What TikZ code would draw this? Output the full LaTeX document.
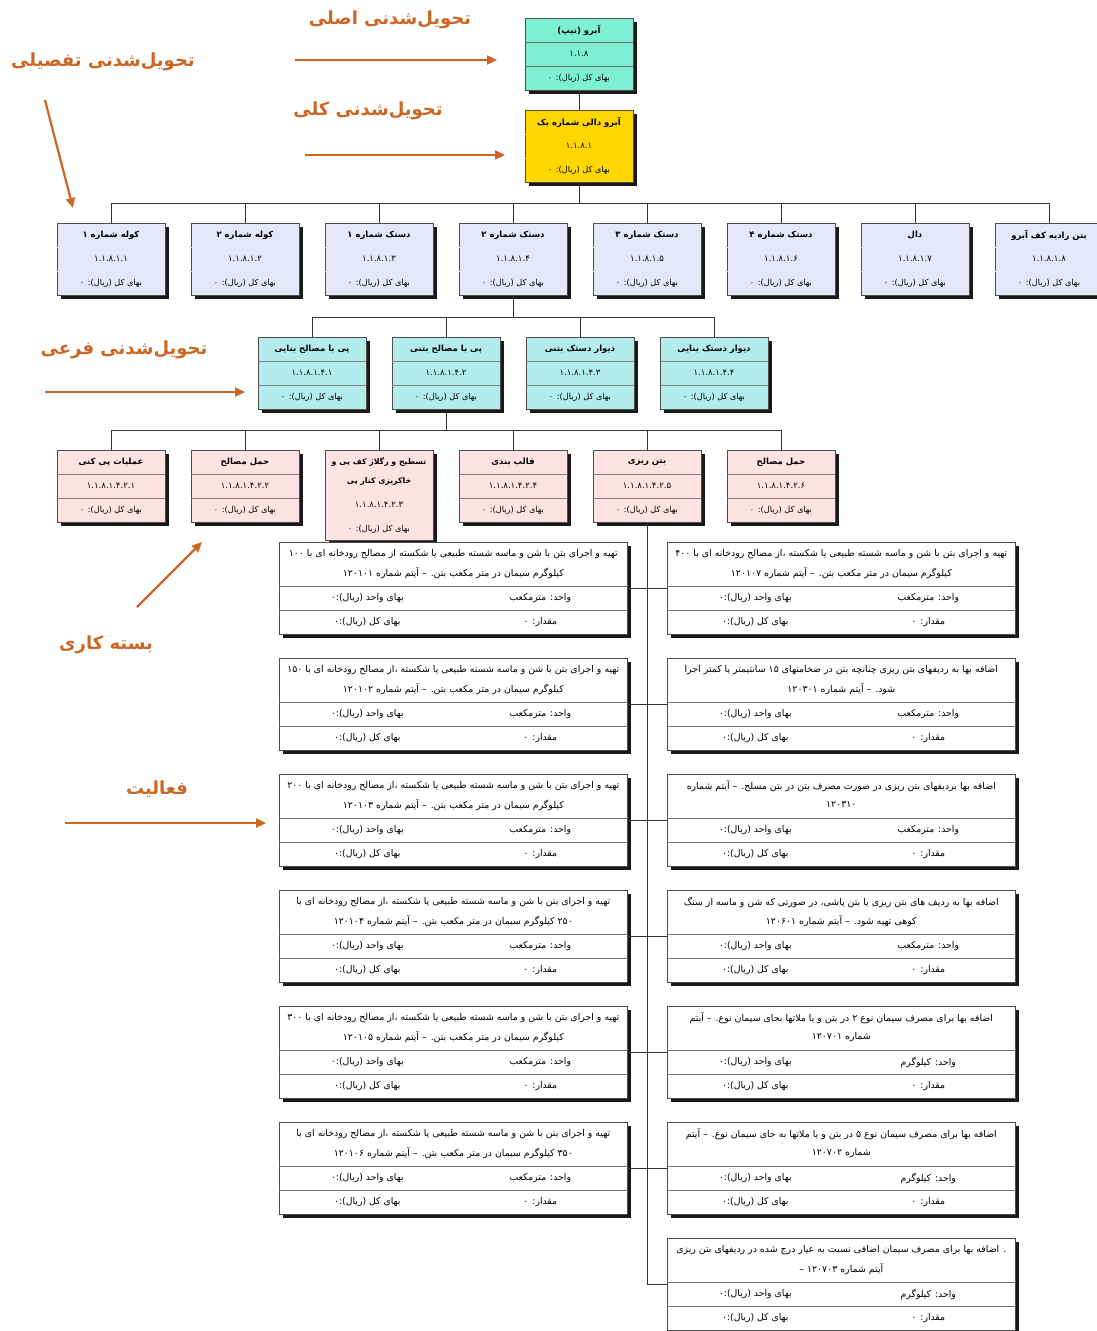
\documentclass[tikz,border=0pt]{standalone}
\usepackage{fontspec}
\newfontfamily\fa[Script=Arabic]{DejaVu Sans}
\TeXXeTstate=1
\usetikzlibrary{arrows.meta,shadows}

\definecolor{nipcyan}{RGB}{125,240,210}
\definecolor{daliyellow}{RGB}{255,215,0}
\definecolor{partlav}{RGB}{230,230,250}
\definecolor{subcyan}{RGB}{178,236,236}
\definecolor{workpink}{RGB}{255,226,226}
\definecolor{noteorange}{RGB}{204,102,34}

\tikzset{
  wbs/.style={draw=black!70, line width=0.6pt, minimum width=108pt, minimum height=72pt, inner sep=0pt, anchor=north,
    drop shadow={shadow xshift=3.5pt, shadow yshift=-3.5pt, fill=black, opacity=0.9}},
  act/.style={draw=black!70, line width=0.6pt, fill=white, minimum width=348pt, minimum height=92pt, inner sep=0pt, anchor=north west,
    drop shadow={shadow xshift=3.5pt, shadow yshift=-3.5pt, fill=black, opacity=0.9}},
  actrule/.style={draw=black!55, line width=0.5pt},
  ttl/.style={font=\fa\bfseries\fontsize{8.5}{11}\selectfont, inner sep=0pt},
  cde/.style={font=\fa\fontsize{8.5}{10}\selectfont, inner sep=0pt},
  cst/.style={font=\fa\fontsize{8.2}{10}\selectfont, inner sep=0pt},
  desc/.style={font=\fa\fontsize{9.4}{11}\selectfont, inner sep=0pt},
  row/.style={font=\fa\fontsize{9.3}{11}\selectfont, inner sep=0pt},
  link/.style={draw=black!80, line width=0.7pt},
  note/.style={font=\fa\bfseries\fontsize{18}{21}\selectfont, text=noteorange, inner sep=0pt},
  notearrow/.style={draw=noteorange, line width=2.2pt, -{Triangle[length=10pt,width=9pt]}},
}

% one box of the breakdown: name, x, top, fill, rule colour, title, code
\newcommand{\wbsnode}[7]{%
  \node[wbs, fill=#4] (#1) at (#2,#3) {};%
  \draw[draw=#5] ([yshift=-24pt]#1.north west) -- ([yshift=-24pt]#1.north east);%
  \draw[draw=#5] ([yshift=-48pt]#1.north west) -- ([yshift=-48pt]#1.north east);%
  \node[ttl] (#1-t) at ([yshift=-12pt]#1.north) {#6};%
  \node[cde] (#1-c) at ([yshift=-36pt]#1.north) {#7};%
  \node[cst] (#1-k) at ([yshift=-60pt]#1.north) {\beginR بهای کل (ریال): ۰\endR};%
}

% one activity: name, left, top, line 1, line 2, unit
\newcommand{\actnode}[6]{%
  \node[act] (#1) at (#2,#3) {};%
  \draw[actrule] ([yshift=-44pt]#1.north west) -- ([yshift=-44pt]#1.north east);%
  \draw[actrule] ([yshift=-68pt]#1.north west) -- ([yshift=-68pt]#1.north east);%
  \node[desc] (#1-a) at ([yshift=-12pt]#1.north) {#4};%
  \node[desc] (#1-b) at ([yshift=-31pt]#1.north) {#5};%
  \node[row] (#1-u) at ([xshift=87pt,yshift=-56pt]#1.north) {#6};%
  \node[row] (#1-p) at ([xshift=-86pt,yshift=-56pt]#1.north) {\beginR بهای واحد (ریال):۰\endR};%
  \node[row] (#1-q) at ([xshift=87pt,yshift=-80pt]#1.north) {\beginR مقدار: ۰\endR};%
  \node[row] (#1-s) at ([xshift=-86pt,yshift=-80pt]#1.north) {\beginR بهای کل (ریال):۰\endR};%
}

\begin{document}
\begin{tikzpicture}[x=1pt,y=-1pt]
  \fill[white] (0,0) rectangle (1096,1331);%
  \useasboundingbox (0,0) rectangle (1096,1331);%

  % Main deliverable and general deliverable
  \wbsnode{nip}{579}{18}{nipcyan}{black!55}{\beginR آبرو (نیپ)\endR}{۱.۱.۸}%
  \wbsnode{dal}{579}{110}{daliyellow}{daliyellow}{\beginR آبرو دالی شماره یک\endR}{۱.۱.۸.۱}%
  \draw[link] (nip.south) -- (dal.north);%

  % Detailed deliverables
  \wbsnode{k1}{111}{223}{partlav}{partlav}{\beginR کوله شماره ۱\endR}{۱.۱.۸.۱.۱}%
  \wbsnode{k2}{245}{223}{partlav}{partlav}{\beginR کوله شماره ۲\endR}{۱.۱.۸.۱.۲}%
  \wbsnode{k3}{379}{223}{partlav}{partlav}{\beginR دستک شماره ۱\endR}{۱.۱.۸.۱.۳}%
  \wbsnode{k4}{513}{223}{partlav}{partlav}{\beginR دستک شماره ۲\endR}{۱.۱.۸.۱.۴}%
  \wbsnode{k5}{647}{223}{partlav}{partlav}{\beginR دستک شماره ۳\endR}{۱.۱.۸.۱.۵}%
  \wbsnode{k6}{781}{223}{partlav}{partlav}{\beginR دستک شماره ۴\endR}{۱.۱.۸.۱.۶}%
  \wbsnode{k7}{915}{223}{partlav}{partlav}{\beginR دال\endR}{۱.۱.۸.۱.۷}%
  \wbsnode{k8}{1049}{223}{partlav}{partlav}{\beginR بتن رادیه کف آبرو\endR}{۱.۱.۸.۱.۸}%
  \foreach \k in {k1,k2,k3,k4,k5,k6,k7,k8}
    \draw[link] (dal.south) -- ++(0,21) -| (\k.north);%

  % Sub deliverables
  \wbsnode{p1}{312}{337}{subcyan}{black!50}{\beginR پی با مصالح بنایی\endR}{۱.۱.۸.۱.۴.۱}%
  \wbsnode{p2}{446}{337}{subcyan}{black!50}{\beginR پی با مصالح بتنی\endR}{۱.۱.۸.۱.۴.۲}%
  \wbsnode{p3}{580}{337}{subcyan}{black!50}{\beginR دیوار دستک بتنی\endR}{۱.۱.۸.۱.۴.۳}%
  \wbsnode{p4}{714}{337}{subcyan}{black!50}{\beginR دیوار دستک بنایی\endR}{۱.۱.۸.۱.۴.۴}%
  \foreach \p in {p1,p2,p3,p4}
    \draw[link] (k4.south) -- ++(0,22) -| (\p.north);%

  % Work packages
  \wbsnode{r1}{111}{450}{workpink}{black!50}{\beginR عملیات پی کنی\endR}{۱.۱.۸.۱.۴.۲.۱}%
  \wbsnode{r2}{245}{450}{workpink}{black!50}{\beginR حمل مصالح\endR}{۱.۱.۸.۱.۴.۲.۲}%
  \node[wbs, fill=workpink, minimum height=90pt] (r3) at (379,450) {};%
  \node[ttl, font=\fa\bfseries\fontsize{7.8}{10}\selectfont] (r3-t) at ([yshift=-12pt]r3.north) {\beginR تسطیح و رگلاژ کف پی و\endR};%
  \node[ttl, font=\fa\bfseries\fontsize{7.8}{10}\selectfont] (r3-u) at ([yshift=-31pt]r3.north) {\beginR خاکریزی کنار پی\endR};%
  \node[cde] (r3-c) at ([yshift=-55pt]r3.north) {۱.۱.۸.۱.۴.۲.۳};%
  \node[cst] (r3-k) at ([yshift=-79pt]r3.north) {\beginR بهای کل (ریال): ۰\endR};%
  \wbsnode{r4}{513}{450}{workpink}{black!50}{\beginR قالب بندی\endR}{۱.۱.۸.۱.۴.۲.۴}%
  \wbsnode{r5}{647}{450}{workpink}{black!50}{\beginR بتن ریزی\endR}{۱.۱.۸.۱.۴.۲.۵}%
  \wbsnode{r6}{781}{450}{workpink}{black!50}{\beginR حمل مصالح\endR}{۱.۱.۸.۱.۴.۲.۶}%
  \foreach \r in {r1,r2,r3,r4,r5,r6}
    \draw[link] (p2.south) -- ++(0,21) -| (\r.north);%

  % Activities, left column
  \actnode{a1}{279}{542}{\beginR تهیه و اجرای بتن با شن و ماسه شسته طبیعی یا شکسته از مصالح رودخانه ای با ۱۰۰\endR}{\beginR کیلوگرم سیمان در متر مکعب بتن. – آیتم شماره ۱۲۰۱۰۱\endR}{\beginR واحد: مترمکعب\endR}%
  \actnode{a2}{279}{658}{\beginR تهیه و اجرای بتن با شن و ماسه شسته طبیعی یا شکسته ،از مصالح رودخانه ای با ۱۵۰\endR}{\beginR کیلوگرم سیمان در متر مکعب بتن. – آیتم شماره ۱۲۰۱۰۲\endR}{\beginR واحد: مترمکعب\endR}%
  \actnode{a3}{279}{774}{\beginR تهیه و اجرای بتن با شن و ماسه شسته طبیعی یا شکسته ،از مصالح رودخانه ای با ۲۰۰\endR}{\beginR کیلوگرم سیمان در متر مکعب بتن. – آیتم شماره ۱۲۰۱۰۳\endR}{\beginR واحد: مترمکعب\endR}%
  \actnode{a4}{279}{890}{\beginR تهیه و اجرای بتن با شن و ماسه شسته طبیعی یا شکسته ،از مصالح رودخانه ای با\endR}{\beginR ۲۵۰ کیلوگرم سیمان در متر مکعب بتن. – آیتم شماره ۱۲۰۱۰۴\endR}{\beginR واحد: مترمکعب\endR}%
  \actnode{a5}{279}{1006}{\beginR تهیه و اجرای بتن با شن و ماسه شسته طبیعی یا شکسته ،از مصالح رودخانه ای با ۳۰۰\endR}{\beginR کیلوگرم سیمان در متر مکعب بتن. – آیتم شماره ۱۲۰۱۰۵\endR}{\beginR واحد: مترمکعب\endR}%
  \actnode{a6}{279}{1122}{\beginR تهیه و اجرای بتن با شن و ماسه شسته طبیعی یا شکسته ،از مصالح رودخانه ای با\endR}{\beginR ۳۵۰ کیلوگرم سیمان در متر مکعب بتن. – آیتم شماره ۱۲۰۱۰۶\endR}{\beginR واحد: مترمکعب\endR}%

  % Activities, right column
  \actnode{b1}{667}{542}{\beginR تهیه و اجرای بتن با شن و ماسه شسته طبیعی یا شکسته ،از مصالح رودخانه ای با ۴۰۰\endR}{\beginR کیلوگرم سیمان در متر مکعب بتن. – آیتم شماره ۱۲۰۱۰۷\endR}{\beginR واحد: مترمکعب\endR}%
  \actnode{b2}{667}{658}{\beginR اضافه بها به ردیفهای بتن ریزی چنانچه بتن در ضخامتهای ۱۵ سانتیمتر یا کمتر اجرا\endR}{\beginR شود. – آیتم شماره ۱۲۰۳۰۱\endR}{\beginR واحد: مترمکعب\endR}%
  \actnode{b3}{667}{774}{\beginR اضافه بها بردیفهای بتن ریزی در صورت مصرف بتن در بتن مسلح. – آیتم شماره\endR}{۱۲۰۳۱۰}{\beginR واحد: مترمکعب\endR}%
  \actnode{b4}{667}{890}{\beginR اضافه بها به ردیف های بتن ریزی یا بتن پاشی، در صورتی که شن و ماسه از سنگ\endR}{\beginR کوهی تهیه شود. – آیتم شماره ۱۲۰۶۰۱\endR}{\beginR واحد: مترمکعب\endR}%
  \actnode{b5}{667}{1006}{\beginR اضافه بها برای مصرف سیمان نوع ۲ در بتن و یا ملاتها بجای سیمان نوع. – آیتم\endR}{\beginR شماره ۱۲۰۷۰۱\endR}{\beginR واحد: کیلوگرم\endR}%
  \actnode{b6}{667}{1122}{\beginR اضافه بها برای مصرف سیمان نوع ۵ در بتن و یا ملاتها به جای سیمان نوع. – آیتم\endR}{\beginR شماره ۱۲۰۷۰۲\endR}{\beginR واحد: کیلوگرم\endR}%
  \actnode{b7}{667}{1238}{\beginR . اضافه بها برای مصرف سیمان اضافی نسبت به عیار درج شده در ردیفهای بتن ریزی\endR}{\beginR آیتم شماره ۱۲۰۷۰۳ –\endR}{\beginR واحد: کیلوگرم\endR}%

  % Drawing the activity links
  \draw[link] (r5.south) -- (r5.south |- b7.west);%
  \foreach \a in {a1,a2,a3,a4,a5,a6}
    \draw[link] (\a.east) -- (\a.east -| r5.south);%
  \foreach \b in {b1,b2,b3,b4,b5,b6,b7}
    \draw[link] (\b.west) -- (\b.west -| r5.south);%

  % Notes and their arrows
  \node[note] (n1) at (390,20) {\beginR تحویل^^^^200cشدنی اصلی\endR};%
  \node[note] (n2) at (103,62) {\beginR تحویل^^^^200cشدنی تفصیلی\endR};%
  \node[note] (n3) at (368,111) {\beginR تحویل^^^^200cشدنی کلی\endR};%
  \node[note] (n4) at (124,350) {\beginR تحویل^^^^200cشدنی فرعی\endR};%
  \node[note] (n5) at (106,645) {\beginR بسته کاری\endR};%
  \node[note] (n6) at (157,789) {\beginR فعالیت\endR};%
  \coordinate (s1) at (295,60); \coordinate (e1) at (497,60);%
  \coordinate (s2) at (45,100); \coordinate (e2) at (73,208);%
  \coordinate (s3) at (305,155); \coordinate (e3) at (505,155);%
  \coordinate (s4) at (45,392); \coordinate (e4) at (245,392);%
  \coordinate (s5) at (137,607); \coordinate (e5) at (202,542);%
  \coordinate (s6) at (65,823); \coordinate (e6) at (266,823);%
  \foreach \i in {1,...,6}
    \draw[notearrow] (s\i) -- (e\i);%
\end{tikzpicture}
\end{document}
